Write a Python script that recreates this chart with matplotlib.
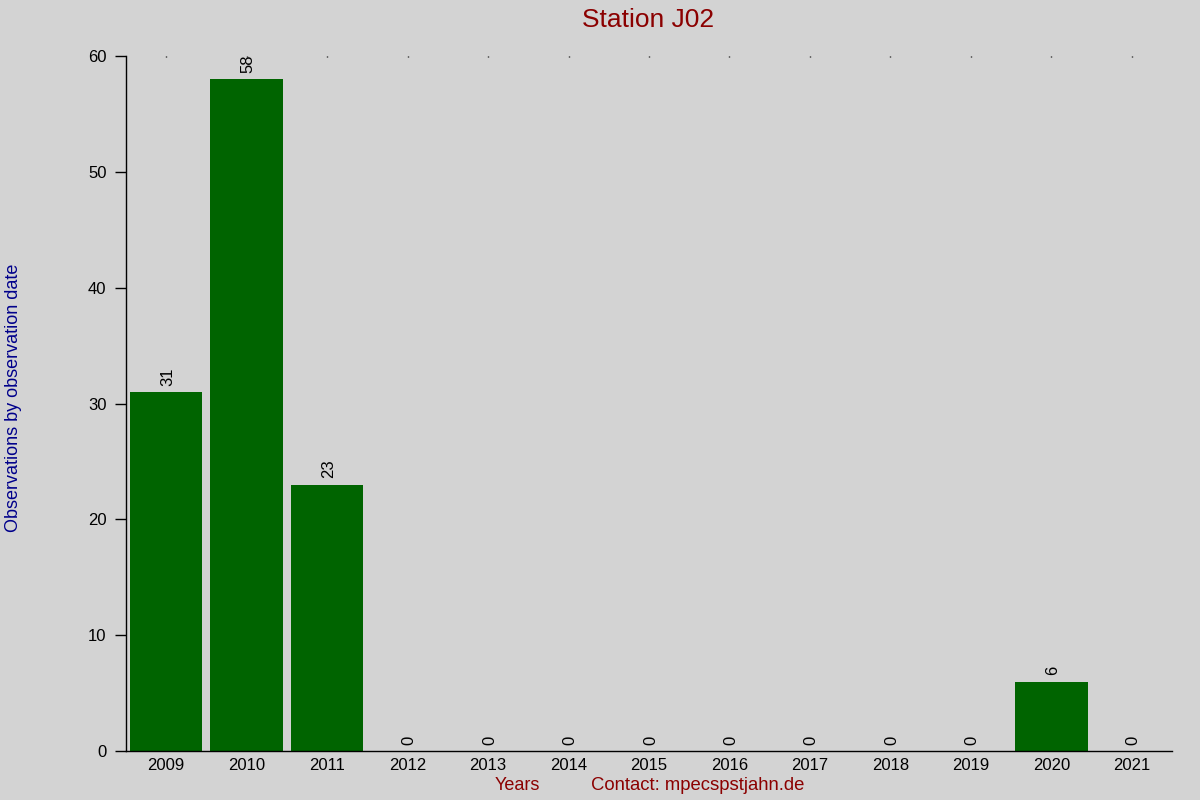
import matplotlib
matplotlib.use("Agg")
import matplotlib.pyplot as plt
import numpy as np

years = ["2009", "2010", "2011", "2012", "2013", "2014", "2015", "2016",
         "2017", "2018", "2019", "2020", "2021"]
counts = [31, 58, 23, 0, 0, 0, 0, 0, 0, 0, 0, 6, 0]
yticks = [0, 10, 20, 30, 40, 50, 60]

plt.rcParams['font.family'] = ['Liberation Sans', 'DejaVu Sans']
bg = '#d3d3d3'
fig = plt.figure(figsize=(12, 8), dpi=100, facecolor=bg)
ax = fig.add_axes([0.105, 0.06125, 0.8717, 0.86875], facecolor=bg)

x = np.arange(len(years))
ax.bar(x, counts, width=0.9, color='#006400', zorder=2)
for xi, v in zip(x, counts):
    ax.annotate(str(v), (xi, v), xytext=(1, 4.5), textcoords='offset points',
                rotation=90, ha='center', va='bottom', fontsize=12, color='black')

ax.set_xlim(-0.5, 12.5)
ax.set_ylim(0, 60)
ax.set_yticks(yticks)
ax.set_xticks(x)
ax.set_xticklabels(years)
ax.tick_params(axis='y', direction='out', length=8, width=1, labelsize=12, pad=6)
ax.xaxis.set_tick_params(top=True, bottom=False, direction='in', length=1,
                         width=1, labelsize=12, pad=5)
for s in ['top', 'right']:
    ax.spines[s].set_visible(False)
for s in ['left', 'bottom']:
    ax.spines[s].set_linewidth(1)
    ax.spines[s].set_color('black')

fig.text(0.54, 0.975, "Station J02", ha='center', va='center', fontsize=19, color='#8b0000')
fig.text(0.0115, 0.503, "Observations by observation date", rotation=90,
         ha='center', va='center', fontsize=13, color='#00008b')
fig.text(0.431, 0.0175, "Years", ha='center', va='center', fontsize=13, color='#8b0000')
fig.text(0.5815, 0.0175, "Contact: mpecspstjahn.de", ha='center', va='center',
         fontsize=13.3, color='#8b0000')

fig.savefig("out.png", dpi=100, facecolor=bg)
